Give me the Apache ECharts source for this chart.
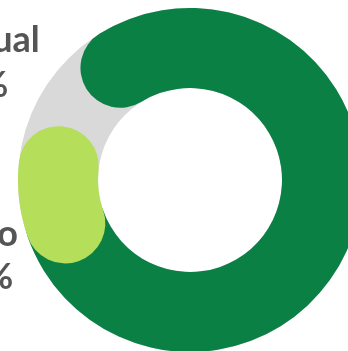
<!DOCTYPE html>
<html>
<head>
<meta charset="utf-8">
<script src="https://cdn.jsdelivr.net/npm/echarts@6/dist/echarts.min.js"></script>
<style>
  html, body { margin: 0; padding: 0; background: #fff; }
  #chart { width: 348px; height: 351px; }
</style>
</head>
<body>
<div id="chart"></div>
<script>
  // values in percent of the full ring
  var names = ["Actual", "Otro"];
  var actual = [78.5];
  var extra = [7];
  var labels = ["Actual\n78%", "Otro\n15%"];

  var chart = echarts.init(document.getElementById("chart"));
  chart.setOption({
    animation: false,
    polar: {
      center: [190, 180],
      radius: [92, 172]
    },
    angleAxis: {
      max: 100,
      startAngle: 121.8,
      show: false
    },
    radiusAxis: {
      type: "category",
      data: ["ring"],
      show: false
    },
    series: [
      {
        name: names[0],
        type: "bar",
        coordinateSystem: "polar",
        stack: "ring",
        roundCap: true,
        barWidth: 80,
        showBackground: true,
        backgroundStyle: { color: "#d9d9d9" },
        itemStyle: { color: "#0a8045" },
        data: actual
      },
      {
        name: names[1],
        type: "bar",
        coordinateSystem: "polar",
        stack: "ring",
        roundCap: true,
        barWidth: 80,
        itemStyle: { color: "#b5de5b" },
        data: extra
      }
    ],
    graphic: [
      {
        type: "text",
        x: -63,
        y: 18,
        style: {
          text: labels[0],
          textAlign: "left",
          textVerticalAlign: "top",
          font: "bold 36px Lato",
          lineHeight: 45,
          fill: "#555555"
        }
      },
      {
        type: "text",
        x: -58,
        y: 213,
        style: {
          text: labels[1],
          textAlign: "left",
          textVerticalAlign: "top",
          font: "bold 36px Lato",
          lineHeight: 43,
          fill: "#555555"
        }
      }
    ]
  });
</script>
</body>
</html>
